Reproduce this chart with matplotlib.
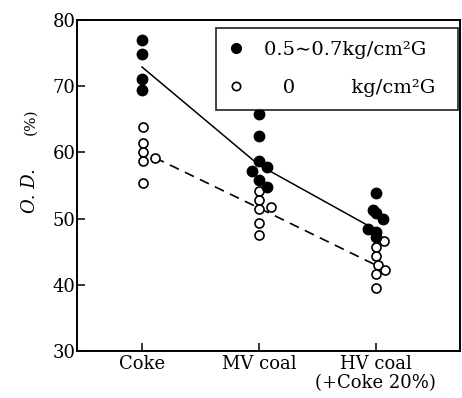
import matplotlib
matplotlib.use("Agg")
import matplotlib.pyplot as plt
from matplotlib.lines import Line2D

plt.rcParams["font.family"] = ["DejaVu Serif"]

categories = ["Coke", "MV coal", "HV coal\n(+Coke 20%)"]

# pressurised (filled) points: x offsets around the category, O.D. values
fill_x = [0, 0, 0, 0,
          1, 1, 1, 0.94, 1.07, 1.0, 1.07,
          2, 1.98, 2.06, 2.0, 1.93, 2.0, 2.0]
fill_y = [77.0, 74.9, 71.1, 69.4,
          65.8, 62.5, 58.7, 57.2, 57.8, 55.8, 54.8,
          53.9, 51.3, 49.9, 50.8, 48.4, 48.0, 47.2]

# atmospheric (open) points
open_x = [0.01, 0.01, 0.01, 0.01, 0.01, 0.11,
          1, 1, 1, 1.1, 1, 1,
          2.07, 2.0, 2.0, 2.02, 2.08, 2.0, 2.0]
open_y = [63.8, 61.4, 60.1, 58.7, 55.4, 59.2,
          54.2, 52.8, 51.4, 51.8, 49.3, 47.5,
          46.6, 45.7, 44.4, 43.0, 42.2, 41.6, 39.5]

# trend lines
solid_x = [0, 1, 2]
solid_y = [72.9, 58.1, 48.3]
dash_x = [0.11, 1, 2.09]
dash_y = [59.2, 51.6, 42.2]

fig = plt.figure(figsize=(4.62, 3.98), dpi=100)
ax = fig.add_axes([77 / 462, 1 - 351 / 398, (460 - 77) / 462, (351 - 20) / 398])

ax.plot(solid_x, solid_y, "-", color="black", lw=1.1, zorder=1)
ax.plot(dash_x, dash_y, color="black", lw=1.2, linestyle=(0, (6, 4)), zorder=1)
ax.plot(open_x, open_y, "o", ms=6.5, mfc="white", mec="black", mew=1.2,
        linestyle="none", zorder=2)
ax.plot(fill_x, fill_y, "o", ms=7.5, color="black", linestyle="none", zorder=3)

ax.set_xlim(-0.556, 2.72)
ax.set_ylim(30, 80)
ax.set_xticks([0, 1, 2])
ax.set_xticklabels(categories, fontsize=13, linespacing=1.05)
ax.set_yticks([30, 40, 50, 60, 70, 80])
ax.tick_params(axis="both", direction="in", length=6, width=1.1,
               labelsize=13, pad=3)
ax.tick_params(axis="y", pad=1)
for s in ax.spines.values():
    s.set_linewidth(1.4)

fig.text(30 / 462, 1 - 191 / 398, "O. D.", rotation=90, fontsize=13,
         style="italic", ha="center", va="center")
fig.text(30 / 462, 1 - 122 / 398, "(%)", rotation=90, fontsize=11,
         ha="center", va="center")

handles = [
    Line2D([], [], marker="o", ms=7, color="black", linestyle="none"),
    Line2D([], [], marker="o", ms=6, mfc="white", mec="black", mew=1.2,
           linestyle="none"),
]
labels = ["0.5\u223c0.7kg/cm\u00b2G   ", "   0         kg/cm\u00b2G"]
leg = ax.legend(handles, labels, loc="upper right",
                bbox_to_anchor=(0.995, 0.976), borderaxespad=0,
                fontsize=14, frameon=True, fancybox=False,
                edgecolor="black", handletextpad=1.1, borderpad=0.65,
                labelspacing=1.05, handlelength=0.75)
leg.get_frame().set_linewidth(1.3)

fig.savefig("out.png", dpi=100)
